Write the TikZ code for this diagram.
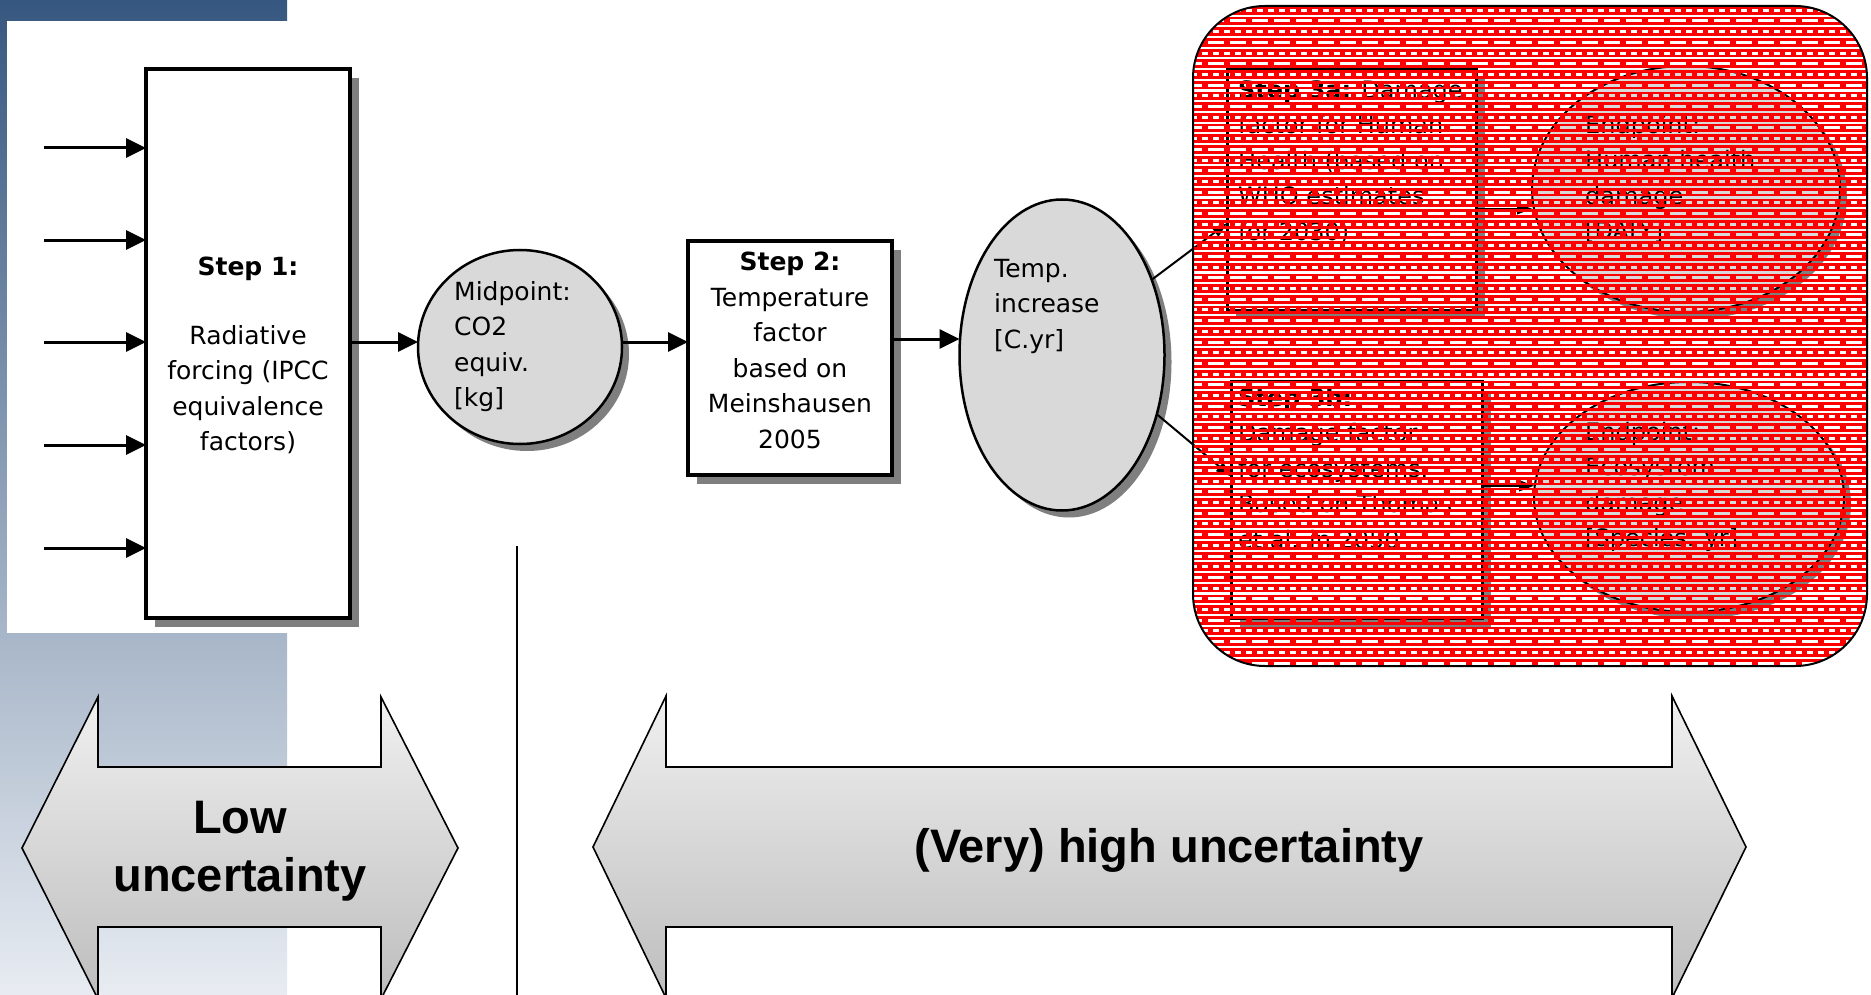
\documentclass[tikz,border=0pt]{standalone}
\usepackage{fontspec}
\setmainfont{DejaVu Sans}
\newfontfamily\arialfont{Liberation Sans}
\usetikzlibrary{arrows.meta,shapes.geometric,shadows,calc}
\definecolor{bgtop}{HTML}{36577F}
\definecolor{bgbot}{HTML}{E8ECF2}
\definecolor{shd}{HTML}{7F7F7F}
\definecolor{ellfill}{HTML}{D9D9D9}
\definecolor{arrtop}{HTML}{F0F0F0}
\definecolor{arrbot}{HTML}{BDBDBD}
\definecolor{patred}{HTML}{FF0000}
\begin{document}
\begin{tikzpicture}[x=1pt, y=-1pt,
  stepbox/.style={draw, line width=3.5pt, fill=white, rectangle, inner sep=0pt, outer sep=0pt,
    general shadow={fill=shd, shadow xshift=9pt, shadow yshift=-9pt}},
  ell/.style={draw, line width=2.5pt, fill=ellfill, ellipse, inner sep=0pt, outer sep=0pt,
    general shadow={fill=shd, shadow xshift=7pt, shadow yshift=-7pt}},
  txt/.style={font=\fontsize{25}{35.5}\selectfont, inner sep=0pt, align=left},
  rtxt/.style={font=\fontsize{24}{35.5}\selectfont, inner sep=0pt, align=left, anchor=north west},
  flow/.style={line width=3pt, -{Triangle[length=20pt,width=19pt]}},
  smallflow/.style={line width=2pt, -{Triangle[length=15pt,width=11pt]}},
  bigarrow/.style={top color=arrtop, bottom color=arrbot, draw=black, line width=1.6pt, line join=miter},
  bigtxt/.style={font=\arialfont\bfseries\fontsize{47}{58}\selectfont, align=center, inner sep=0pt}
]
\useasboundingbox (0,0) rectangle (1871,995);
% background
\fill[white] (0,0) rectangle (1871,995);
\shade[top color=bgtop, bottom color=bgbot] (0,0) rectangle (287,995);
\fill[white] (7,21) rectangle (1871,633);

% step 1
\node[stepbox, minimum width=204pt, minimum height=549pt] (s1) at (248,343.5) {};
\node[txt, align=center, anchor=north] (s1t) at (248,257)
  {\textbf{Step 1:}\\[33pt]Radiative\\forcing (IPCC\\equivalence\\factors)};
\foreach \yy [count=\k] in {148,240,342,445,548} {
  \coordinate (in\k) at (44,\yy);
  \draw[flow] (in\k) -- (in\k -| s1.west);
}

% midpoint
\node[ell, minimum width=204pt, minimum height=194pt] (mid) at (520,347) {};
\node[txt, anchor=north west] (midt) at (454,281) {Midpoint:\\CO2\\equiv.\\{[kg]}};
\coordinate (a12) at (mid.west |- 0,342);
\draw[flow] (s1.east |- a12) -- (a12);

% step 2
\node[stepbox, minimum width=204pt, minimum height=234pt] (s2) at (790,358) {};
\node[txt, align=center, anchor=north] (s2t) at (790,252)
  {\textbf{Step 2:}\\Temperature\\factor\\based on\\Meinshausen\\2005};
\coordinate (b12) at (mid.east |- 0,342);
\draw[flow] (b12) -- (b12 -| s2.west);

% temperature
\node[ell, minimum width=205pt, minimum height=311pt] (temp) at (1062,355) {};
\node[txt, anchor=north west] (tempt) at (994,259) {Temp.\\increase\\{[C.yr]}};
\coordinate (a23) at ($(s2.east)+(0,-19)$);
\draw[flow] (a23) -- (a23 -| temp.west);

% red zone content
\node[stepbox, line width=3pt, minimum width=249pt, minimum height=241pt] (s3a) at (1351.5,189.5) {};
\node[stepbox, line width=3pt, minimum width=251pt, minimum height=237pt] (s3b) at (1356.5,500) {};
\node[ell, line width=2pt, minimum width=308pt, minimum height=246pt] (e1) at (1686,189) {};
\node[ell, line width=2pt, minimum width=310pt, minimum height=230pt] (e2) at (1689,497) {};
\node[rtxt] (s3at) at (1238,80) {\textbf{Step 3a:} Damage\\factor for Human\\Health (based on\\WHO estimates\\for 2030)};
\node[rtxt] (s3bt) at (1238,388) {\textbf{Step 3b:}\\Damage factor\\for ecosystems.\\Based on Thomas\\et al. in 2050};
\node[rtxt] (e1t) at (1585,115) {Endpoint:\\Human health\\damage\\{[DALY]}};
\node[rtxt] (e2t) at (1585,422) {Endpoint:\\Ecosystem\\damage\\{[Species. yr]}};
\draw[smallflow] (temp.40) -- ($(s3a.north west)!0.64!(s3a.south west)$);
\draw[smallflow] (temp.-32) -- ($(s3b.north west)!0.40!(s3b.south west)$);
\coordinate (o3a) at ($(s3a.north east)!0.58!(s3a.south east)$);
\coordinate (o3b) at ($(s3b.north east)!0.44!(s3b.south east)$);
\draw[smallflow] (o3a) -- (o3a -| e1.west);
\draw[smallflow] (o3b) -- (o3b -| e2.west);

% red patterned overlay
\coordinate (rznw) at (1193,6);
\coordinate (rzse) at (1867,666);
\begin{scope}
  \clip[rounded corners=72pt] (rznw) rectangle (rzse);
  \foreach \i in {0,...,31} {
    \pgfmathsetmacro\ya{6+21.4*\i}
    \pgfmathsetmacro\yb{\ya+10.7}
    \fill[patred] (1190,\ya) rectangle (1870,\ya+2.8);
    \draw[patred, line width=3pt, dash pattern=on 5pt off 6pt] (1186,\ya+4.3) -- (1870,\ya+4.3);
    \fill[patred] (1190,\ya+5.8) rectangle (1870,\ya+8.6);
    \fill[patred] (1190,\yb) rectangle (1870,\yb+2.8);
    \draw[patred, line width=3pt, dash pattern=on 6pt off 16pt] (1180,\yb+4.3) -- (1870,\yb+4.3);
    \fill[patred] (1190,\yb+5.8) rectangle (1870,\yb+8.6);
  }
\end{scope}
\draw[line width=2pt, rounded corners=72pt] (rznw) rectangle (rzse);

% separator
\coordinate (vt) at (517,546);
\coordinate (vb) at (517,995);
\draw[line width=2pt] (vt) -- (vb);

% uncertainty arrows
\shade[bigarrow] (22,848) -- (98,697) -- (98,767) -- (381,767) -- (381,697) -- (458,848)
  -- (381,999) -- (381,927) -- (98,927) -- (98,999) -- cycle;
\node[bigtxt] (lowt) at (240,851) {Low\\uncertainty};
\shade[bigarrow] (593,847) -- (666,696) -- (666,767) -- (1672,767) -- (1672,696) -- (1746,847)
  -- (1672,998) -- (1672,927) -- (666,927) -- (666,998) -- cycle;
\node[bigtxt] (hight) at (1169,850) {(Very) high uncertainty};
\end{tikzpicture}
\end{document}
